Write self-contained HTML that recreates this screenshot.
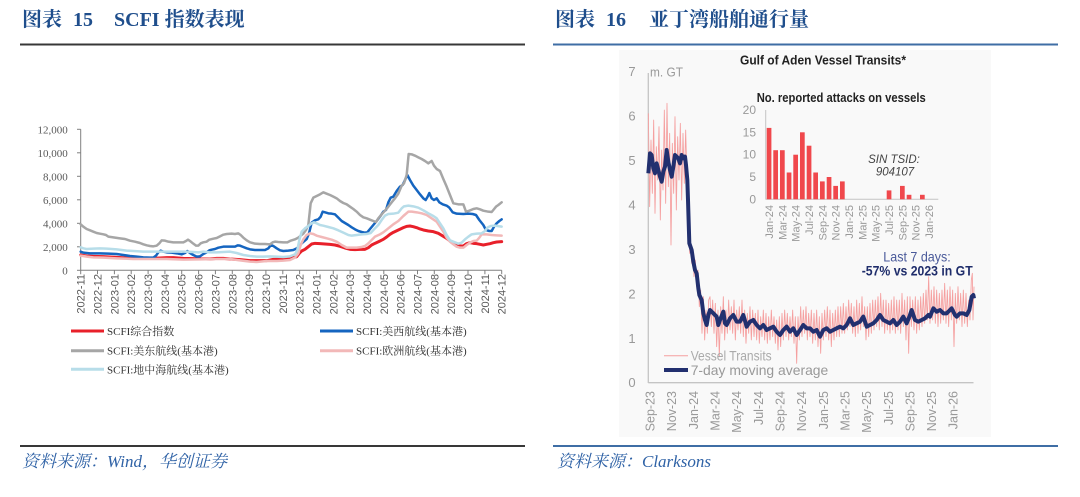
<!DOCTYPE html>
<html><head><meta charset="utf-8">
<style>
html,body{margin:0;padding:0;background:#fff;}
body{width:1080px;height:497px;position:relative;overflow:hidden;}
.t{position:absolute;top:7px;font-family:"Liberation Serif","Noto Serif CJK SC",serif;font-weight:bold;font-size:20px;line-height:26px;color:#1f4e8c;white-space:nowrap;}
.f{position:absolute;top:450px;font-family:"Liberation Serif","Noto Serif CJK SC",serif;font-style:italic;font-size:17px;line-height:24px;color:#2f62a6;white-space:nowrap;}
svg{position:absolute;left:0;top:0;}
</style></head><body>
<div class="t" style="left:22px">图表</div>
<div class="t" style="left:73px">15</div>
<div class="t" style="left:114px">SCFI 指数表现</div>
<div class="t" style="left:555px">图表</div>
<div class="t" style="left:606px">16</div>
<div class="t" style="left:649px">亚丁湾船舶通行量</div>
<div class="f" style="left:22px">资料来源：Wind，华创证券</div>
<div class="f" style="left:557px">资料来源：Clarksons</div>

<svg width="1080" height="497" viewBox="0 0 1080 497" xmlns="http://www.w3.org/2000/svg">
<!-- divider lines -->
<rect x="20" y="43.5" width="505" height="2" fill="#383838"/>
<rect x="553" y="43.5" width="505" height="2" fill="#3f6ea5"/>
<rect x="20" y="445" width="505" height="2" fill="#383838"/>
<rect x="553" y="445" width="505" height="2" fill="#3f6ea5"/>

<!-- ================= LEFT CHART ================= -->
<g stroke="#808080" stroke-width="1" fill="none">
<line x1="80.7" y1="129.3" x2="80.7" y2="270.8"/>
<line x1="80.7" y1="270.3" x2="501.7" y2="270.3"/>
<line x1="77" y1="129.3" x2="80.7" y2="129.3"/>
<line x1="77" y1="152.8" x2="80.7" y2="152.8"/>
<line x1="77" y1="176.3" x2="80.7" y2="176.3"/>
<line x1="77" y1="199.8" x2="80.7" y2="199.8"/>
<line x1="77" y1="223.3" x2="80.7" y2="223.3"/>
<line x1="77" y1="246.8" x2="80.7" y2="246.8"/>
<line x1="77" y1="270.3" x2="80.7" y2="270.3"/>
<path d="M80.7 270.3v4M97.5 270.3v4M114.4 270.3v4M131.2 270.3v4M148.1 270.3v4M164.9 270.3v4M181.7 270.3v4M198.6 270.3v4M215.4 270.3v4M232.3 270.3v4M249.1 270.3v4M265.9 270.3v4M282.8 270.3v4M299.6 270.3v4M316.5 270.3v4M333.3 270.3v4M350.1 270.3v4M367 270.3v4M383.8 270.3v4M400.7 270.3v4M417.5 270.3v4M434.3 270.3v4M451.2 270.3v4M468 270.3v4M484.9 270.3v4M501.7 270.3v4"/>
</g>
<g font-family="Liberation Serif, serif" font-size="11" fill="#595959" text-anchor="end">
<text x="67.7" y="133.3">12,000</text>
<text x="67.7" y="156.8">10,000</text>
<text x="67.7" y="180.3">8,000</text>
<text x="67.7" y="203.8">6,000</text>
<text x="67.7" y="227.3">4,000</text>
<text x="67.7" y="250.8">2,000</text>
<text x="67.7" y="274.3">0</text>
</g>
<g font-family="Liberation Sans, sans-serif" font-size="11" fill="#595959" text-anchor="end">
<text transform="translate(84.7,274) rotate(-90)">2022-11</text>
<text transform="translate(101.5,274) rotate(-90)">2022-12</text>
<text transform="translate(118.4,274) rotate(-90)">2023-01</text>
<text transform="translate(135.2,274) rotate(-90)">2023-02</text>
<text transform="translate(152.1,274) rotate(-90)">2023-03</text>
<text transform="translate(168.9,274) rotate(-90)">2023-04</text>
<text transform="translate(185.7,274) rotate(-90)">2023-05</text>
<text transform="translate(202.6,274) rotate(-90)">2023-06</text>
<text transform="translate(219.4,274) rotate(-90)">2023-07</text>
<text transform="translate(236.3,274) rotate(-90)">2023-08</text>
<text transform="translate(253.1,274) rotate(-90)">2023-09</text>
<text transform="translate(269.9,274) rotate(-90)">2023-10</text>
<text transform="translate(286.8,274) rotate(-90)">2023-11</text>
<text transform="translate(303.6,274) rotate(-90)">2023-12</text>
<text transform="translate(320.5,274) rotate(-90)">2024-01</text>
<text transform="translate(337.3,274) rotate(-90)">2024-02</text>
<text transform="translate(354.1,274) rotate(-90)">2024-03</text>
<text transform="translate(371,274) rotate(-90)">2024-04</text>
<text transform="translate(387.8,274) rotate(-90)">2024-05</text>
<text transform="translate(404.7,274) rotate(-90)">2024-06</text>
<text transform="translate(421.5,274) rotate(-90)">2024-07</text>
<text transform="translate(438.3,274) rotate(-90)">2024-08</text>
<text transform="translate(455.2,274) rotate(-90)">2024-09</text>
<text transform="translate(472,274) rotate(-90)">2024-10</text>
<text transform="translate(488.9,274) rotate(-90)">2024-11</text>
<text transform="translate(505.7,274) rotate(-90)">2024-12</text>
</g>
<g transform="translate(50,115) scale(0.33333)" fill="none" stroke-linejoin="round" stroke-linecap="round">
<polyline stroke="#e8202a" stroke-width="9" points="92,420 110,423 130,424 160,425 200,427 250,430 300,430 330,429 350,428 370,428 400,430 430,431 450,432 480,432 500,430 520,430 540,432 570,434 600,437 620,437 650,437 670,433 690,432 710,431 730,428 740,425 748,415 755,408 765,403 775,395 785,387 795,385 810,386 825,387 840,388 855,390 870,394 885,399 900,403 915,404 930,403 945,403 955,398 965,390 975,385 990,378 1000,373 1010,366 1020,358 1030,352 1045,345 1060,338 1070,334 1080,333 1090,335 1100,338 1110,342 1120,345 1135,348 1150,350 1165,355 1180,364 1190,370 1200,378 1210,386 1220,391 1230,393 1240,393 1250,386 1260,383 1270,385 1280,386 1290,388 1300,390 1310,388 1320,386 1330,383 1340,381 1355,380"/>
<polyline stroke="#1565c0" stroke-width="7.5" points="92,410 100,413 120,415 150,415 175,416 200,417 220,420 240,423 260,425 280,427 300,428 310,428 318,422 325,412 332,407 340,410 350,412 365,413 380,415 395,418 405,414 412,408 420,414 430,420 440,425 450,424 460,417 470,412 478,406 485,404 495,402 505,398 520,395 540,395 555,395 563,391 570,392 580,396 590,400 600,403 615,405 630,405 645,405 655,400 663,390 670,393 680,400 690,406 700,408 715,407 730,405 740,400 748,394 755,385 763,378 770,372 777,355 785,323 795,316 805,313 812,305 818,290 825,292 835,295 845,296 855,298 865,308 875,318 885,324 895,330 905,337 915,343 925,348 935,351 945,353 952,352 960,342 970,330 980,318 990,305 1000,290 1008,285 1015,262 1022,248 1030,245 1040,228 1050,215 1058,210 1065,195 1072,180 1080,195 1090,212 1100,225 1110,238 1120,250 1127,255 1133,245 1138,234 1145,250 1152,255 1160,250 1168,262 1178,268 1190,272 1198,278 1208,292 1220,296 1240,297 1255,296 1268,297 1278,300 1288,315 1300,330 1308,345 1318,348 1325,348 1332,335 1340,325 1348,318 1355,313"/>
<polyline stroke="#a6a6a6" stroke-width="7.5" points="92,328 100,335 110,342 120,346 130,350 140,354 150,356 160,358 168,360 175,365 190,367 210,370 225,372 240,377 255,380 270,384 280,388 290,391 300,393 310,394 320,392 328,385 335,376 345,377 355,380 370,382 385,382 400,382 408,378 414,374 420,378 430,386 438,392 445,392 452,385 460,382 470,380 478,374 490,371 500,369 510,364 520,359 530,357 545,356 555,357 565,355 572,360 580,368 590,376 600,382 615,386 630,387 645,387 660,388 668,382 675,380 685,381 700,382 712,382 722,377 735,373 745,368 752,362 760,356 768,345 775,330 782,265 790,248 800,243 810,238 820,232 830,236 840,240 850,245 860,250 870,258 880,264 890,268 900,275 910,282 920,290 930,300 940,307 950,310 960,314 970,318 978,321 985,310 995,298 1005,287 1015,275 1025,262 1035,250 1045,236 1055,212 1062,205 1070,180 1076,117 1085,118 1095,122 1105,127 1115,132 1125,138 1135,145 1145,138 1152,152 1160,162 1170,168 1180,192 1190,215 1200,240 1210,265 1225,268 1240,268 1248,290 1258,287 1270,282 1280,280 1290,283 1300,287 1315,290 1325,291 1330,285 1338,275 1345,270 1355,262"/>
<polyline stroke="#f2b8b8" stroke-width="7.5" points="92,422 110,425 130,427 160,428 200,430 250,432 300,432 350,432 400,434 450,433 500,432 540,432 570,436 600,440 620,441 650,438 680,438 700,437 720,435 735,428 745,415 752,390 760,373 770,360 780,355 790,357 800,362 815,366 830,370 845,374 860,380 875,390 890,398 905,398 920,398 935,396 945,393 955,385 965,375 975,365 990,358 1000,352 1010,344 1020,336 1030,328 1045,318 1060,303 1075,290 1085,290 1100,292 1115,295 1130,300 1145,310 1160,320 1170,335 1180,350 1190,368 1200,380 1210,388 1220,395 1230,398 1240,398 1250,390 1260,383 1270,378 1280,377 1288,368 1295,358 1310,358 1325,360 1340,361 1355,362"/>
<polyline stroke="#b7dde9" stroke-width="7.5" points="92,397 100,400 110,402 130,401 150,400 170,401 200,403 230,407 250,408 280,410 300,410 330,410 360,410 400,410 430,411 445,412 460,410 480,412 500,412 520,411 540,410 560,414 580,420 600,423 620,425 640,425 660,424 680,425 700,426 720,424 735,418 742,405 748,375 755,350 765,340 775,333 785,325 792,322 800,325 810,330 820,332 835,336 850,340 865,346 880,353 895,360 905,362 920,360 935,358 950,357 962,354 975,340 985,330 995,315 1005,302 1015,297 1030,296 1045,293 1055,280 1062,274 1075,272 1090,274 1105,278 1120,286 1135,295 1150,303 1160,310 1170,325 1180,340 1190,360 1200,376 1210,380 1225,386 1235,383 1245,373 1255,365 1265,358 1280,356 1295,355 1305,348 1312,338 1322,333 1335,332 1355,335"/>
</g>
<!-- legend -->
<g stroke-width="3">
<line x1="71" y1="331" x2="104" y2="331" stroke="#e8202a"/>
<line x1="320" y1="331" x2="353" y2="331" stroke="#1565c0"/>
<line x1="71" y1="350.7" x2="104" y2="350.7" stroke="#a6a6a6"/>
<line x1="320" y1="350.7" x2="353" y2="350.7" stroke="#f2b8b8"/>
<line x1="71" y1="369.3" x2="104" y2="369.3" stroke="#b7dde9"/>
</g>
<g font-family="Liberation Serif, Noto Serif CJK SC, serif" font-size="11" fill="#333">
<text x="107" y="335">SCFI综合指数</text>
<text x="356" y="335">SCFI:美西航线(基本港)</text>
<text x="107" y="354.7">SCFI:美东航线(基本港)</text>
<text x="356" y="354.7">SCFI:欧洲航线(基本港)</text>
<text x="107" y="373.3">SCFI:地中海航线(基本港)</text>
</g>

<!-- ================= RIGHT CHART ================= -->
<rect x="619" y="50" width="372" height="387" fill="#f9f9f9"/>
<g font-family="Liberation Sans, sans-serif">
<text x="740" y="64.5" font-size="13" font-weight="bold" fill="#222" textLength="166" lengthAdjust="spacingAndGlyphs">Gulf of Aden Vessel Transits*</text>
<text x="650" y="76.5" font-size="13" fill="#999" textLength="33" lengthAdjust="spacingAndGlyphs">m. GT</text>
<g font-size="13" fill="#999" text-anchor="middle">
<text x="632" y="76.2">7</text>
<text x="632" y="120.6">6</text>
<text x="632" y="165">5</text>
<text x="632" y="209.5">4</text>
<text x="632" y="253.9">3</text>
<text x="632" y="298.3">2</text>
<text x="632" y="342.8">1</text>
<text x="632" y="387.2">0</text>
</g>
</g>
<line x1="648.3" y1="73" x2="648.3" y2="383" stroke="#c4c4c4" stroke-width="1.3"/>
<line x1="648.3" y1="382.7" x2="973.5" y2="382.7" stroke="#c4c4c4" stroke-width="1.3"/>
<g font-family="Liberation Sans, sans-serif" font-size="12.5" fill="#999" text-anchor="end">
<text transform="translate(654.5,391) rotate(-90)">Sep-23</text>
<text transform="translate(676.2,391) rotate(-90)">Nov-23</text>
<text transform="translate(697.8,391) rotate(-90)">Jan-24</text>
<text transform="translate(719.5,391) rotate(-90)">Mar-24</text>
<text transform="translate(741.1,391) rotate(-90)">May-24</text>
<text transform="translate(762.8,391) rotate(-90)">Jul-24</text>
<text transform="translate(784.5,391) rotate(-90)">Sep-24</text>
<text transform="translate(806.1,391) rotate(-90)">Nov-24</text>
<text transform="translate(827.8,391) rotate(-90)">Jan-25</text>
<text transform="translate(849.4,391) rotate(-90)">Mar-25</text>
<text transform="translate(871.1,391) rotate(-90)">May-25</text>
<text transform="translate(892.8,391) rotate(-90)">Jul-25</text>
<text transform="translate(914.4,391) rotate(-90)">Sep-25</text>
<text transform="translate(936.1,391) rotate(-90)">Nov-25</text>
<text transform="translate(957.7,391) rotate(-90)">Jan-26</text>
</g>

<!-- inset bar chart -->
<text x="756.7" y="101.8" font-family="Liberation Sans, sans-serif" font-size="13" font-weight="bold" fill="#222" textLength="169" lengthAdjust="spacingAndGlyphs">No. reported attacks on vessels</text>
<g font-family="Liberation Sans, sans-serif" font-size="12" fill="#999" text-anchor="end">
<text x="756" y="114.2">20</text>
<text x="756" y="136.5">15</text>
<text x="756" y="158.5">10</text>
<text x="756" y="180.9">5</text>
<text x="756" y="203.5">0</text>
</g>
<line x1="765.7" y1="110" x2="765.7" y2="199.5" stroke="#c4c4c4" stroke-width="1"/>
<line x1="765.7" y1="199.3" x2="938.3" y2="199.3" stroke="#c4c4c4" stroke-width="1"/>
<g fill="#f0484c">
<rect x="766.7" y="127.9" width="4.7" height="71.4"/>
<rect x="773.3" y="150.2" width="4.7" height="49.1"/>
<rect x="780" y="150.2" width="4.7" height="49.1"/>
<rect x="786.7" y="172.5" width="4.7" height="26.8"/>
<rect x="793.3" y="154.7" width="4.7" height="44.6"/>
<rect x="800" y="132.3" width="4.7" height="67"/>
<rect x="806.7" y="145.7" width="4.7" height="53.6"/>
<rect x="813.3" y="172.5" width="4.7" height="26.8"/>
<rect x="820" y="181.4" width="4.7" height="17.9"/>
<rect x="826.7" y="177" width="4.7" height="22.3"/>
<rect x="833.3" y="185.9" width="4.7" height="13.4"/>
<rect x="840" y="181.4" width="4.7" height="17.9"/>
<rect x="886.7" y="190.4" width="4.7" height="8.9"/>
<rect x="900" y="185.9" width="4.7" height="13.4"/>
<rect x="906.7" y="194.8" width="4.7" height="4.5"/>
<rect x="920" y="194.8" width="4.7" height="4.5"/>
</g>
<g font-family="Liberation Sans, sans-serif" font-size="11" fill="#999" text-anchor="end">
<text transform="translate(773,205) rotate(-90)">Jan-24</text>
<text transform="translate(786.3,205) rotate(-90)">Mar-24</text>
<text transform="translate(799.7,205) rotate(-90)">May-24</text>
<text transform="translate(813,205) rotate(-90)">Jul-24</text>
<text transform="translate(826.3,205) rotate(-90)">Sep-24</text>
<text transform="translate(839.7,205) rotate(-90)">Nov-24</text>
<text transform="translate(853,205) rotate(-90)">Jan-25</text>
<text transform="translate(866.3,205) rotate(-90)">Mar-25</text>
<text transform="translate(879.7,205) rotate(-90)">May-25</text>
<text transform="translate(893,205) rotate(-90)">Jul-25</text>
<text transform="translate(906.3,205) rotate(-90)">Sep-25</text>
<text transform="translate(919.7,205) rotate(-90)">Nov-25</text>
<text transform="translate(933,205) rotate(-90)">Jan-26</text>
</g>
<g font-family="Liberation Sans, sans-serif" font-size="11.5" font-style="italic" fill="#444" text-anchor="middle">
<text x="894" y="163">SIN TSID:</text>
<text x="895" y="175.7">904107</text>
</g>

<!-- main series -->
<g transform="translate(600,200) scale(0.33333)" fill="none" stroke-linejoin="round">
<polyline stroke="#f5a0a0" stroke-width="2.6" points="145,-260 149,20 153,-180 157,-20 161,-240 165,40 169,-160 173,-60 177,-220 181,60 185,-150 189,-30 193,-270 197,10 201,-290 205,-40 209,-200 213,135 217,-170 221,-20 225,-250 229,30 233,-190 237,-60 241,-230 245,0 249,-200 253,-50 257,-210 260,-100 263,20 266,100 269,160 272,130 275,190 278,150 282,230 286,180 290,260 294,210 298,320 302,270 306,400 310,290 314,420 318,330 322,400 326,300 330,290 334,380 338,300 342,400 346,310 350,440 354,330 358,470 362,320 366,400 370,290 374,420 378,330 382,400 386,300 390,390 394,320 398,400 402,300 406,420 410,330 414,390 418,320 422,400 426,300 430,410 434,330 438,430 442,340 446,400 450,320 454,420 458,330 462,410 466,340 470,420 474,330 478,430 482,350 486,410 490,330 494,420 498,340 502,430 506,350 510,420 514,330 518,410 522,350 526,430 530,360 534,450 538,350 542,440 546,340 550,420 554,330 558,410 562,340 566,420 570,350 574,410 578,330 582,430 586,350 590,490 594,350 598,420 602,320 606,410 610,330 614,400 618,320 622,420 626,340 630,410 634,330 638,430 642,340 646,420 650,330 654,440 658,350 662,460 666,340 670,420 674,330 678,410 682,320 686,420 690,330 694,440 698,340 702,420 706,330 710,410 714,320 718,410 722,320 726,400 730,310 734,400 738,320 742,390 746,300 750,380 754,310 758,400 762,320 766,410 770,300 774,400 778,310 782,390 786,290 790,380 794,320 798,420 802,320 806,410 810,310 814,400 818,300 822,390 826,300 830,380 834,290 838,390 842,280 846,380 850,300 854,400 858,300 862,390 866,310 870,400 874,300 878,390 882,290 886,400 890,300 894,390 898,300 902,400 906,280 910,380 914,300 918,420 922,290 926,460 930,290 934,380 938,300 942,390 946,290 950,400 954,300 958,390 962,290 966,380 970,280 974,370 978,270 982,360 986,230 990,370 994,270 998,360 1002,260 1006,370 1010,270 1014,380 1018,280 1022,370 1026,270 1030,360 1034,250 1038,370 1042,270 1046,380 1050,260 1054,360 1058,270 1062,440 1066,280 1070,370 1074,260 1078,360 1082,280 1086,380 1090,270 1094,370 1098,280 1102,380 1106,300 1110,360 1114,240 1117,220 1119,360 1122,260"/>
<polyline stroke="#22306f" stroke-width="12" points="145,-80 150,-140 155,-135 160,-95 165,-80 170,-110 175,-90 180,-70 185,-55 190,-85 195,-100 200,-150 205,-115 210,-90 215,-70 220,-100 225,-135 230,-130 235,-125 240,-110 245,-135 250,-125 255,-130 258,-105 262,-60 264,0 268,130 275,150 280,185 285,210 290,220 295,265 298,285 305,300 310,340 315,360 320,375 325,345 330,330 340,340 350,350 355,375 360,360 370,335 375,370 380,375 390,355 400,345 410,365 420,365 430,345 440,380 450,365 460,360 470,375 480,385 490,375 500,390 510,385 520,380 530,395 540,405 550,390 560,380 570,395 580,385 590,405 600,390 610,375 620,385 630,385 640,395 650,390 660,410 670,390 680,385 690,395 700,390 710,385 720,380 730,385 740,375 750,355 760,375 770,370 780,365 790,350 800,380 810,375 820,370 830,360 840,345 850,360 860,365 870,370 880,360 890,375 900,365 910,350 920,370 930,345 935,330 945,360 955,365 965,360 975,355 985,345 990,350 1000,325 1010,335 1020,330 1030,340 1040,340 1050,330 1055,325 1065,345 1070,350 1080,340 1090,340 1100,345 1108,330 1115,290 1120,285 1122,295"/>
</g>

<!-- annotations & legend -->
<g font-family="Liberation Sans, sans-serif">
<text x="883.3" y="261.5" font-size="14" fill="#4a5a9a" textLength="67.4" lengthAdjust="spacingAndGlyphs">Last 7 days:</text>
<text x="861.7" y="275.5" font-size="14" font-weight="bold" fill="#1f2d6b" textLength="111" lengthAdjust="spacingAndGlyphs">-57% vs 2023 in GT</text>
<text x="690.7" y="360.5" font-size="14" fill="#aaa" textLength="81" lengthAdjust="spacingAndGlyphs">Vessel Transits</text>
<text x="690.7" y="374.8" font-size="14" fill="#999" textLength="137.6" lengthAdjust="spacingAndGlyphs">7-day moving average</text>
</g>
<line x1="664" y1="355.7" x2="688" y2="355.7" stroke="#f5a0a0" stroke-width="1"/>
<line x1="664" y1="370" x2="688" y2="370" stroke="#22306f" stroke-width="4"/>
</svg>
</body></html>
